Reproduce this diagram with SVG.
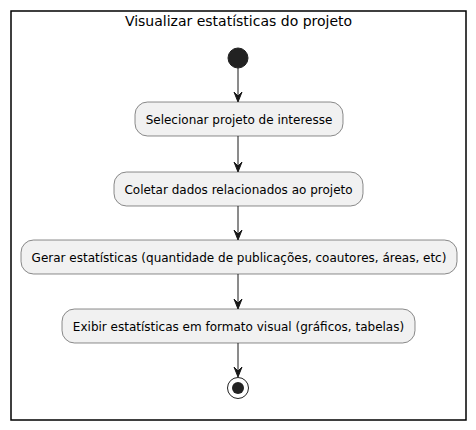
<svg xmlns="http://www.w3.org/2000/svg" width="476" height="430" viewBox="0 0 476 430">
<style>
text{font-family:"DejaVu Sans",sans-serif;fill:#000}
.act{fill:#F1F1F1;stroke:#181818;stroke-width:0.5}
.t{font-size:12px;text-anchor:middle}
.ln{stroke:#181818;stroke-width:1;fill:none}
.ah{fill:#181818;stroke:#181818;stroke-width:1}
</style>
<rect width="476" height="430" fill="#FFFFFF"/>
<g id="frame">
<rect x="11" y="11" width="455" height="409" fill="none" stroke="#000" stroke-width="1.5"/>
<text x="238.5" y="26" font-size="14" text-anchor="middle">Visualizar estatísticas do projeto</text>
</g>
<g id="start"><circle cx="238" cy="58" r="10" fill="#222222" stroke="#222222"/></g>
<g id="n1"><rect class="act" x="135" y="102" width="208" height="34" rx="12.5"/><text class="t" x="239" y="123.5">Selecionar projeto de interesse</text></g>
<g id="n2"><rect class="act" x="114" y="172" width="249" height="34" rx="12.5"/><text class="t" x="238.5" y="193.5">Coletar dados relacionados ao projeto</text></g>
<g id="n3"><rect class="act" x="21" y="240" width="436" height="34" rx="12.5"/><text class="t" x="239" y="261.5">Gerar estatísticas (quantidade de publicações, coautores, áreas, etc)</text></g>
<g id="n4"><rect class="act" x="62" y="309" width="353" height="34" rx="12.5"/><text class="t" x="238.5" y="330.5">Exibir estatísticas em formato visual (gráficos, tabelas)</text></g>
<g id="end"><circle cx="238" cy="388" r="10.5" fill="none" stroke="#222222" stroke-width="1"/><circle cx="238" cy="388" r="6" fill="#222222"/></g>
<g id="connectors">
<path class="ln" d="M238,68 V96"/><polygon class="ah" points="234,92 238,102 242,92 238,96"/>
<path class="ln" d="M238,136 V166"/><polygon class="ah" points="234,162 238,172 242,162 238,166"/>
<path class="ln" d="M238,206 V234"/><polygon class="ah" points="234,230 238,240 242,230 238,234"/>
<path class="ln" d="M238,274 V303"/><polygon class="ah" points="234,299 238,309 242,299 238,303"/>
<path class="ln" d="M238,343 V371"/><polygon class="ah" points="234,367 238,377 242,367 238,371"/>
</g>
</svg>
